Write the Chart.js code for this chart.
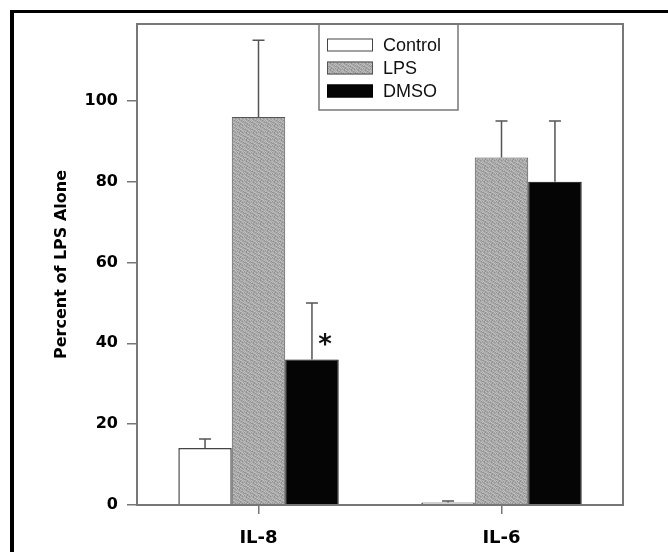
<!DOCTYPE html>
<html>
<head>
<meta charset="utf-8">
<script src="https://cdn.jsdelivr.net/npm/chart.js@4.4.1/dist/chart.umd.min.js"></script>
<style>
  html,body{margin:0;padding:0;background:#fff;}
  #wrap{width:668px;height:552px;position:relative;}
</style>
</head>
<body>
<div id="wrap"><canvas id="chart"></canvas></div>
<script>
/* data */
const categories  = ['IL-8', 'IL-6'];
const seriesNames = ['Control', 'LPS', 'DMSO'];
const controlVals = [14.1, 0.6];
const controlErr  = [2.2, 0.4];
const lpsVals     = [96, 86];
const lpsErr      = [19, 9];
const dmsoVals    = [36, 80];
const dmsoErr     = [14, 15];
const yTicks      = [0, 20, 40, 60, 80, 100];
const yMax        = 119;
const sigMarks    = [{ series: 2, cat: 0, text: '*' }];   // DMSO, IL-8

/* stippled grey like the scanned LPS bars */
function stipple(){
  const tile = ['abadaad','daabada','adaaabd','baddaab','aabadad','dabaadb','abdabaa'];
  const cols = { a: '#a8a8a8', b: '#929292', d: '#bebebe' };
  const c = document.createElement('canvas');
  c.width = 7; c.height = 7;
  const g = c.getContext('2d');
  tile.forEach((row, y) => [...row].forEach((k, x) => { g.fillStyle = cols[k]; g.fillRect(x, y, 1, 1); }));
  return g.createPattern(c, 'repeat');
}
const greyFill = stipple();

const errors = [controlErr, lpsErr, dmsoErr];

/* one-sided error bars, plot frame, legend, asterisk, page frame */
const extras = {
  id: 'extras',
  beforeDraw(chart){
    const ctx = chart.ctx;
    ctx.save();
    ctx.fillStyle = '#000';
    ctx.fillRect(10, 10, 658, 3);   // scan frame top
    ctx.fillRect(10, 10, 4, 542);   // scan frame left
    ctx.restore();
  },
  afterDatasetsDraw(chart){
    const ctx = chart.ctx, y = chart.scales.y, area = chart.chartArea;
    ctx.save();
    ctx.strokeStyle = '#555';
    ctx.lineWidth = 1.5;
    chart.data.datasets.forEach((ds, i) => {
      chart.getDatasetMeta(i).data.forEach((bar, j) => {
        const top = y.getPixelForValue(ds.data[j] + errors[i][j]);
        ctx.beginPath();
        ctx.moveTo(bar.x, bar.y);
        ctx.lineTo(bar.x, top);
        ctx.moveTo(bar.x - 6, top);
        ctx.lineTo(bar.x + 6, top);
        ctx.stroke();
      });
    });

    /* plot box */
    ctx.strokeStyle = '#777';
    ctx.lineWidth = 2;
    ctx.strokeRect(area.left, area.top, area.right - area.left, area.bottom - area.top);

    /* significance */
    ctx.fillStyle = '#111';
    ctx.font = 'bold 26px "DejaVu Sans"';
    ctx.textAlign = 'center';
    ctx.textBaseline = 'alphabetic';
    sigMarks.forEach(m => {
      const bar = chart.getDatasetMeta(m.series).data[m.cat];
      ctx.fillText(m.text, bar.x + 13, bar.y - 6);
    });

    /* legend box */
    const lx = area.left + 182, ly = area.top, lw = 139, lh = 86;
    ctx.strokeStyle = '#777';
    ctx.lineWidth = 1.5;
    ctx.strokeRect(lx, ly, lw, lh);
    ctx.font = '18px "Liberation Sans"';
    ctx.textAlign = 'left';
    ctx.textBaseline = 'middle';
    chart.data.datasets.forEach((ds, i) => {
      const cy = ly + 21 + i * 23;
      ctx.fillStyle = ds.backgroundColor;
      ctx.fillRect(lx + 8, cy - 6.5, 46, 13);
      ctx.strokeStyle = ds.borderColor;
      ctx.lineWidth = 1;
      ctx.strokeRect(lx + 8.5, cy - 6, 45, 12);
      ctx.fillStyle = '#111';
      ctx.fillText(ds.label, lx + 64, cy + 1);
    });
    ctx.restore();
  }
};

new Chart(document.getElementById('chart'), {
  type: 'bar',
  data: {
    labels: categories,
    datasets: [
      { label: seriesNames[0], data: controlVals, backgroundColor: '#fff',    borderColor: '#444', borderWidth: 1.5 },
      { label: seriesNames[1], data: lpsVals,     backgroundColor: greyFill,  borderColor: '#555', borderWidth: 1 },
      { label: seriesNames[2], data: dmsoVals,    backgroundColor: '#050505', borderColor: '#000', borderWidth: 1 }
    ]
  },
  options: {
    responsive: true,
    maintainAspectRatio: false,
    animation: false,
    layout: { padding: { left: 0, top: 24, right: 45, bottom: 0 } },
    datasets: { bar: { categoryPercentage: 0.66, barPercentage: 1.0 } },
    plugins: { legend: { display: false }, tooltip: { enabled: false } },
    scales: {
      x: {
        afterFit: s => { s.height = 47; },
        grid: { offset: false, drawOnChartArea: false, tickLength: 9, color: '#777', lineWidth: 1.5 },
        border: { color: '#777', width: 2 },
        ticks: { color: '#000', padding: 14, font: { family: 'DejaVu Sans', size: 18, weight: 'bold' } }
      },
      y: {
        min: 0,
        max: yMax,
        afterFit: s => { s.width = 137; },
        afterBuildTicks: s => { s.ticks = yTicks.map(v => ({ value: v })); },
        grid: { drawOnChartArea: false, tickLength: 10, color: '#777', lineWidth: 1.5 },
        border: { color: '#777', width: 2 },
        ticks: { color: '#000', padding: 9, font: { family: 'DejaVu Sans', size: 16, weight: 'bold' } },
        title: {
          display: true,
          text: 'Percent of LPS Alone',
          color: '#000',
          padding: { top: 52, bottom: 0 },
          font: { family: 'DejaVu Sans', size: 16, weight: 'bold' }
        }
      }
    }
  },
  plugins: [extras]
});
</script>
</body>
</html>
